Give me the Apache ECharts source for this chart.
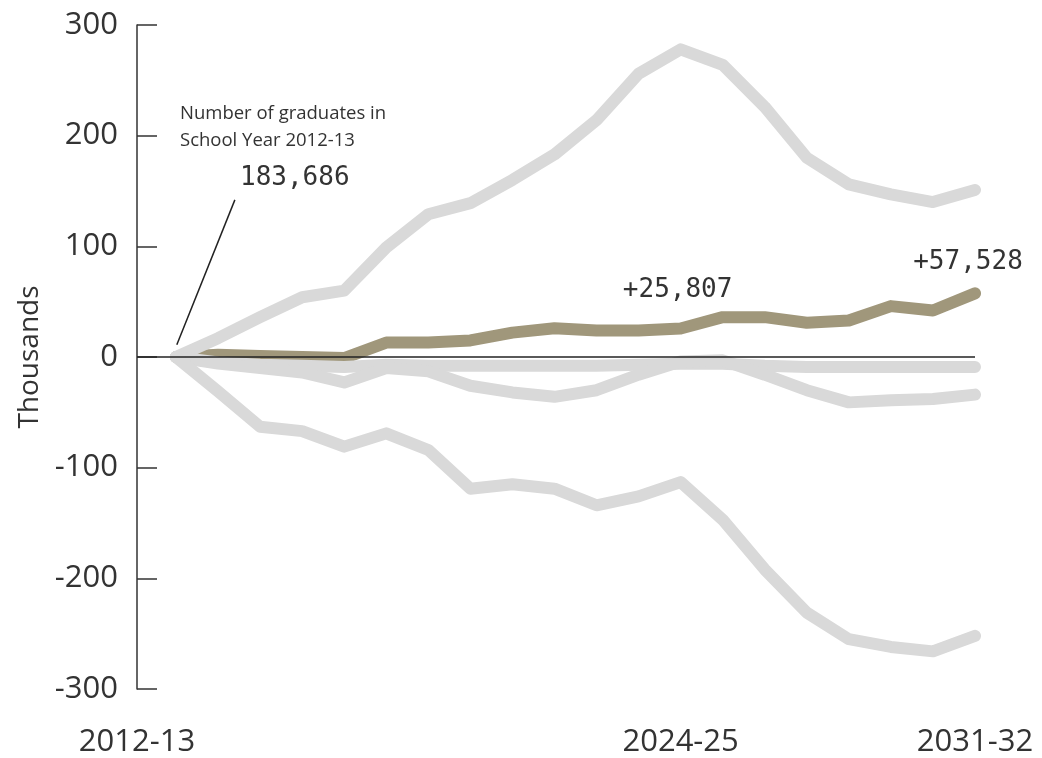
<!DOCTYPE html>
<html>
<head>
<meta charset="utf-8">
<script src="https://cdn.jsdelivr.net/npm/echarts@6/dist/echarts.min.js"></script>
<style>
html,body{margin:0;padding:0;background:#fff;}
#c{width:1042px;height:758px;}
</style>
</head>
<body>
<div id="c"></div>
<script>
const categories = ['2012-13','2013-14','2014-15','2015-16','2016-17','2017-18','2018-19','2019-20','2020-21','2021-22',
  '2022-23','2023-24','2024-25','2025-26','2026-27','2027-28','2028-29','2029-30','2030-31','2031-32'];
const upperSeries = [0, 17, 36, 54, 60, 99, 129, 139, 160, 183, 214, 256, 278, 264, 226, 180, 156, 147, 140, 151];
const flatSeries  = [0, -5, -7, -8, -9, -7, -8, -8, -8, -8, -8, -7, -6, -6, -8, -9, -9, -9, -9, -9];
const dipSeries   = [0, -6, -10, -14, -23, -10, -13, -26, -32, -36, -30, -16, -4, -3, -16, -30, -41, -39, -38, -34];
const lowerSeries = [0, -31, -63, -67, -81, -69, -84, -119, -115, -119, -134, -126, -113, -147, -192, -231, -255, -262, -266, -252];
const totalSeries = [0, 2, 1, 0, -1, 13, 13, 15, 22, 26, 24, 24, 25.807, 36, 36, 31, 33, 46, 42, 57.528];
const yTicks = [-300, -200, -100, 0, 100, 200, 300];
const labelledIdx = [12, 19];
const xLabelIdx = [0, 12, 19];
const baseGraduates = '183,686';

const xMin = -0.927;
const grey = '#d9d9d9';
const brown = '#a0977b';
const txt = '#333333';

function pairs(arr){ return arr.map((v,i)=>[i,v]); }

const labelCfg = {
  12: {distance: 25, offset: [-3, 0]},
  19: {distance: 18, offset: [-7, 0]}
};
const totalData = totalSeries.map((v,i)=>{
  if (labelledIdx.indexOf(i) >= 0) {
    return {value:[i,v], label:{show:true, position:'top', distance: labelCfg[i].distance, offset: labelCfg[i].offset,
      formatter: p => '+' + Math.round(p.value[1]*1000).toLocaleString('en-US'),
      fontFamily:'DejaVu Sans Mono', fontSize:26, color:txt}};
  }
  return [i,v];
});

function greyLine(name, arr){
  return {name, type:'line', data:pairs(arr), symbol:'none', z:3, silent:true,
    lineStyle:{color:grey, width:12, cap:'round', join:'round'}};
}

const chart = echarts.init(document.getElementById('c'));
chart.setOption({
  animation:false,
  grid:{left:137, right:67, top:25, bottom:68},
  xAxis:{type:'value', min:xMin, max:categories.length-1,
    axisLine:{show:false}, axisTick:{show:false}, splitLine:{show:false},
    axisLabel:{customValues:[xMin, xLabelIdx[1], xLabelIdx[2]],
      formatter: v => categories[Math.max(0, Math.round(v))],
      fontFamily:'Open Sans', fontSize:31, color:txt, margin:38}},
  yAxis:{type:'value', min:-300, max:300, interval:100,
    name:'Thousands', nameLocation:'middle', nameRotate:90, nameGap:91,
    nameTextStyle:{fontFamily:'Open Sans', fontSize:28, color:txt},
    axisLine:{show:true, onZero:false, lineStyle:{color:txt, width:1.5}},
    axisTick:{show:true, inside:true, length:20, lineStyle:{color:txt, width:1.5}},
    splitLine:{show:false},
    axisLabel:{customValues:yTicks, fontFamily:'Open Sans', fontSize:31, color:txt, margin:19}},
  series:[
    {name:'Total', type:'line', data:totalData, symbol:'circle', symbolSize:0, showSymbol:true, showAllSymbol:true,
      z:2, silent:true, itemStyle:{color:brown},
      lineStyle:{color:brown, width:12, cap:'round', join:'round'},
      markLine:{silent:true, symbol:'none', label:{show:false},
        data:[
          {yAxis:0, lineStyle:{color:'#222', width:1.5, type:'solid'}},
          [{coord:[0.02, 11], lineStyle:{color:'#222', width:1.5, type:'solid'}}, {coord:[1.4, 142]}]
        ]}},
    greyLine('A', upperSeries),
    greyLine('B', flatSeries),
    greyLine('C', dipSeries),
    greyLine('D', lowerSeries)
  ],
  graphic:[
    {type:'text', left:180, top:100, style:{text:'Number of graduates in\nSchool Year 2012-13',
      font:'18.5px "Open Sans"', fill:txt, lineHeight:27}},
    {type:'text', left:240, top:165, style:{text:baseGraduates, font:'26px "DejaVu Sans Mono"', fill:txt}}
  ]
});
</script>
</body>
</html>
